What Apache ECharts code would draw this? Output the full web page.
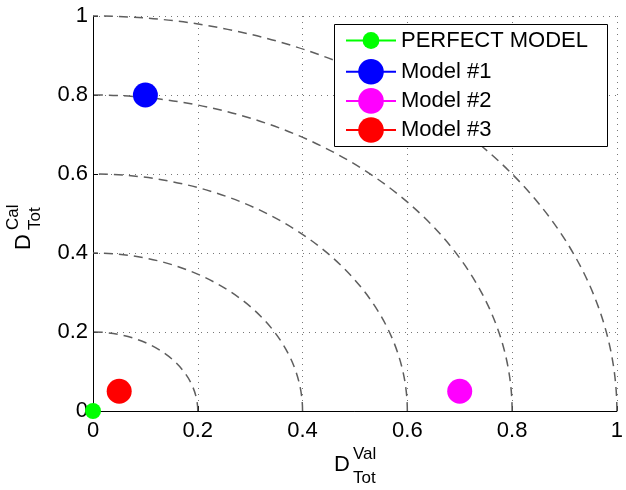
<!DOCTYPE html>
<html>
<head>
<meta charset="utf-8">
<script src="https://cdn.jsdelivr.net/npm/echarts@6/dist/echarts.min.js"></script>
<style>
  html, body { margin: 0; padding: 0; background: #fff; }
  #main { width: 626px; height: 490px; }
</style>
</head>
<body>
<div id="main"></div>
<script>
// data
var modelNames = ['PERFECT MODEL', 'Model #1', 'Model #2', 'Model #3'];
var modelColors = ['#00ff00', '#0000ff', '#ff00ff', '#ff0000'];
var valScores = [0, 0.1, 0.7, 0.05];   // D_Tot^Val
var calScores = [0, 0.8, 0.05, 0.05];  // D_Tot^Cal
var markerSizes = [16, 25, 25, 25];
var arcRadii = [0.2, 0.4, 0.6, 0.8, 1.0];

var FONT = 'Liberation Sans';

var chart = echarts.init(document.getElementById('main'));

var pointSeries = modelNames.map(function (name, i) {
  return {
    name: name,
    type: 'line',
    data: [[valScores[i], calScores[i]]],
    symbol: 'circle',
    symbolSize: markerSizes[i],
    showSymbol: true,
    clip: false,
    z: 5,
    itemStyle: { color: modelColors[i], opacity: 1 },
    lineStyle: { color: modelColors[i], width: 1 },
    emphasis: { disabled: true }
  };
});

// dashed quarter circles, radius in data units
var arcSeries = {
  type: 'custom',
  silent: true,
  z: 1,
  data: arcRadii.map(function (r) { return [r, r]; }),
  renderItem: function (params, api) {
    var r = api.value(0);
    var c = api.coord([0, 0]);
    var rx = api.size([r, 0])[0];
    var ry = api.size([0, r])[1];
    return {
      type: 'path',
      shape: {
        pathData: 'M ' + (c[0] + rx) + ' ' + c[1] + ' A ' + rx + ' ' + ry + ' 0 0 0 ' + c[0] + ' ' + (c[1] - ry)
      },
      style: { fill: 'none', stroke: '#5e5e5e', lineWidth: 1.5, lineDash: [9, 6] }
    };
  }
};

var axisCommon = {
  type: 'value',
  min: 0,
  max: 1,
  interval: 0.2,
  axisLine: { onZero: false, lineStyle: { color: '#000', width: 1 } },
  axisTick: { inside: true, length: 5, lineStyle: { color: '#000' } },
  splitLine: { show: true, lineStyle: { color: '#777', width: 1, type: [1, 5] } },
  axisLabel: { color: '#000', fontSize: 22, fontFamily: FONT }
};

var legendText = { fontSize: 22, fontFamily: FONT, color: '#000' };

chart.setOption({
  animation: false,
  backgroundColor: '#fff',
  grid: { left: 93, right: 6, top: 16, bottom: 79 },
  xAxis: echarts.util.merge({ axisLabel: { margin: 9 } }, axisCommon, true),
  yAxis: echarts.util.merge({ axisLabel: { margin: 5 } }, axisCommon, true),
  legend: [{
    data: [modelNames[0]],
    left: 345, top: 29.5, padding: 0,
    itemWidth: 50, itemHeight: 21,
    selectedMode: false, z: 20,
    textStyle: legendText
  }, {
    data: modelNames.slice(1),
    orient: 'vertical',
    left: 345, top: 59, padding: 0,
    itemWidth: 50, itemHeight: 32, itemGap: 3.5,
    selectedMode: false, z: 20,
    textStyle: legendText
  }],
  graphic: [
    {
      type: 'rect', z: 15,
      shape: { x: 334.5, y: 24.5, width: 273, height: 122 },
      style: { fill: '#fff', stroke: '#000', lineWidth: 1 }
    },
    {
      // x axis name
      type: 'group', x: 334, y: 465,
      children: [
        { type: 'text', x: 0, y: 0, style: { text: 'D', font: '22px ' + FONT, fill: '#000', verticalAlign: 'middle' } },
        { type: 'text', x: 19, y: -10.5, style: { text: 'Val', font: '17px ' + FONT, fill: '#000', verticalAlign: 'middle' } },
        { type: 'text', x: 19, y: 13.5, style: { text: 'Tot', font: '17px ' + FONT, fill: '#000', verticalAlign: 'middle' } }
      ]
    },
    {
      // y axis name, rotated
      type: 'group', x: 24, y: 250, rotation: Math.PI / 2,
      children: [
        { type: 'text', x: 0, y: 0, style: { text: 'D', font: '22px ' + FONT, fill: '#000', verticalAlign: 'middle' } },
        { type: 'text', x: 20, y: -11, style: { text: 'Cal', font: '17px ' + FONT, fill: '#000', verticalAlign: 'middle' } },
        { type: 'text', x: 20, y: 11, style: { text: 'Tot', font: '17px ' + FONT, fill: '#000', verticalAlign: 'middle' } }
      ]
    }
  ],
  series: [arcSeries].concat(pointSeries)
});
</script>
</body>
</html>
